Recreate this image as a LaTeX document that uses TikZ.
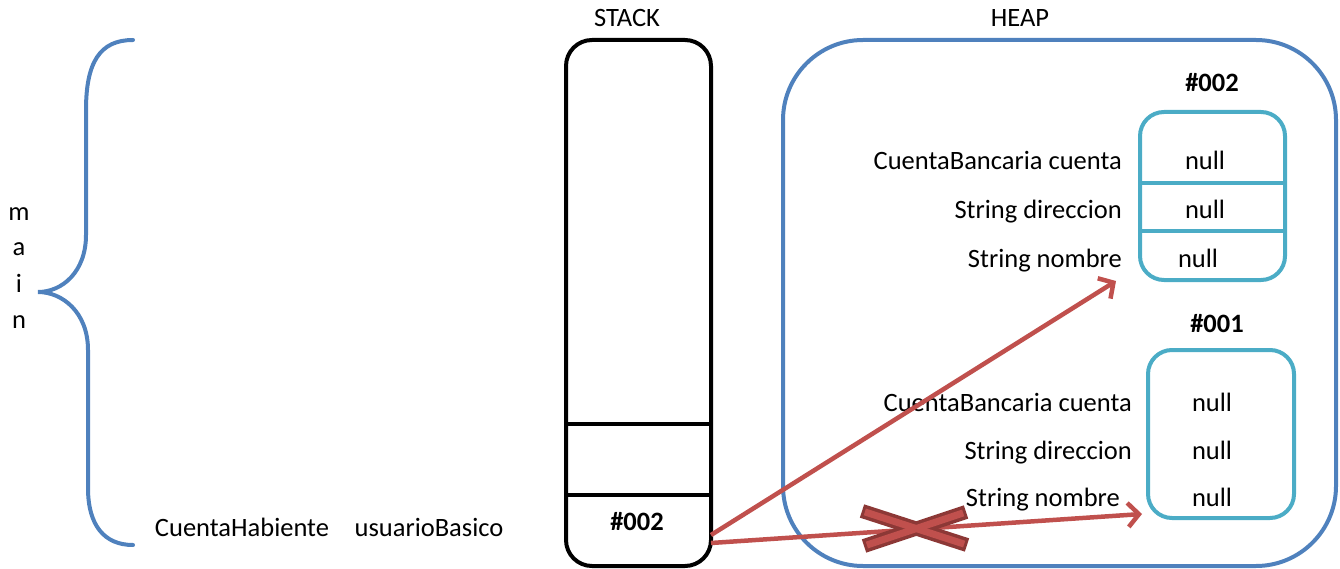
\documentclass[tikz,border=0pt]{standalone}
\usepackage{fontspec}
\setmainfont{Carlito}
\usetikzlibrary{arrows.meta}
\definecolor{braceblue}{HTML}{4F81BD}
\definecolor{boxcyan}{HTML}{4BACC6}
\definecolor{arrred}{HTML}{C0504D}
\definecolor{darkred}{HTML}{8C3836}
\tikzset{
  lbl/.style={inner sep=0pt, text height=18pt, text depth=0pt, font=\fontsize{26.5}{30}\selectfont},
  bold/.style={lbl, font=\fontsize{26.5}{30}\selectfont\bfseries},
  stackbox/.style={draw=black, line width=4pt, rounded corners=26pt, inner sep=0pt},
  heapbox/.style={draw=braceblue, line width=4pt, rounded corners=80pt, inner sep=0pt},
  objbox/.style={draw=boxcyan, line width=4pt, rounded corners=24pt, inner sep=0pt},
  sepline/.style={line width=4pt},
  objsep/.style={draw=boxcyan, line width=4pt},
  ref/.style={draw=arrred, line width=4.5pt, -{Straight Barb[length=11pt, width=24pt, line width=4.5pt]}},
}
\begin{document}
\begin{tikzpicture}[x=1pt, y=-1pt]
\useasboundingbox (0,0) rectangle (1340,569);
% brace
\draw[braceblue, line width=4pt, line cap=round]
  (133,40) .. controls (100,40) and (86,62) .. (86,110) -- (86,235)
  .. controls (86,272) and (62,292) .. (38,292)
  .. controls (62,292) and (88,312) .. (88,350) -- (88,488)
  .. controls (88,525) and (104,545) .. (133,545);
\node[lbl] (m) at (19,212) {m};
\node[lbl] (a) at (19,246) {a};
\node[lbl] (i) at (19,283) {i};
\node[lbl] (n) at (19,319) {n};
% titles
\node[lbl] (tstack) at (627,18) {STACK};
\node[lbl] (theap) at (1020,18) {HEAP};
% stack
\node[stackbox, minimum width=145pt, minimum height=526pt] (stack) at (638.5,303) {};
\draw[sepline] (stack.west |- 0,424) -- (stack.east |- 0,424);
\draw[sepline] (stack.west |- 0,495) -- (stack.east |- 0,495);
\node[bold] (s002) at (637,521) {\#002};
\node[lbl] (ctype) at (242,527) {CuentaHabiente};
\node[lbl] (cvar) at (429,527) {usuarioBasico};
% heap
\node[heapbox, minimum width=553pt, minimum height=526pt] (heap) at (1059.5,303) {};
% object 002
\node[bold] (h002) at (1212,83) {\#002};
\node[objbox, minimum width=145pt, minimum height=168pt] (o2) at (1212.5,196) {};
\draw[objsep] (o2.west |- 0,183) -- (o2.east |- 0,183);
\draw[objsep] (o2.west |- 0,231) -- (o2.east |- 0,231);
\node[lbl, anchor=east] (o2f1) at (1122,161) {CuentaBancaria cuenta};
\node[lbl, anchor=east] (o2f2) at (1122,210) {String direccion};
\node[lbl, anchor=east] (o2f3) at (1122,258) {String nombre};
\node[lbl] (o2v1) at (1205,161) {null};
\node[lbl] (o2v2) at (1205,210) {null};
\node[lbl] (o2v3) at (1198,258) {null};
% object 001
\node[bold] (h001) at (1217,323) {\#001};
\node[objbox, minimum width=146pt, minimum height=168pt] (o1) at (1221,434) {};
\node[lbl, anchor=east] (o1f1) at (1132,402) {CuentaBancaria cuenta};
\node[lbl, anchor=east] (o1f2) at (1132,450) {String direccion};
\node[lbl, anchor=east] (o1f3) at (1120,497) {String nombre};
\node[lbl] (o1v1) at (1212,402) {null};
\node[lbl] (o1v2) at (1212,450) {null};
\node[lbl] (o1v3) at (1212,497) {null};
% references
\coordinate (p1) at (711,535);
\coordinate (p2) at (711,543);
\coordinate (e1) at (1116,281);
\coordinate (e2) at (1142,514);
\draw[ref] (p1) -- (e1);
\draw[ref] (p2) -- (e2);
% cross
\coordinate (x1) at (862,511);
\coordinate (x2) at (967,545);
\coordinate (x3) at (864,546);
\coordinate (x4) at (966,512);
\draw[darkred, line width=14pt] (x1) -- (x2);
\draw[darkred, line width=14pt] (x3) -- (x4);
\draw[arrred, line width=7pt, shorten <=3pt, shorten >=3pt] (x1) -- (x2);
\draw[arrred, line width=7pt, shorten <=3pt, shorten >=3pt] (x3) -- (x4);
\end{tikzpicture}
\end{document}
